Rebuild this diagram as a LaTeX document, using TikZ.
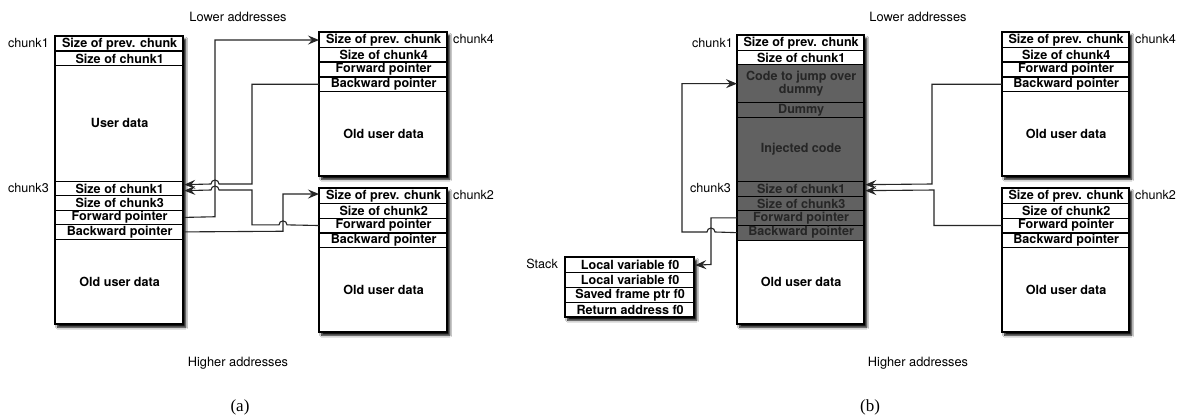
\documentclass[tikz,border=0pt]{standalone}
\usepackage{fontspec}
\setmainfont{TeX Gyre Heros}
\newfontfamily\capfont{Liberation Serif}
\usetikzlibrary{arrows.meta,shadows.blur}

\tikzset{
  conn/.style={draw=black!85, line width=1.1pt},
  arrowtip/.style={-{Stealth[length=11pt,width=9pt,inset=4pt]}},
  memrow/.style={draw=black, line width=1.3pt, inner sep=0pt, anchor=north west,
    align=center, font=\fontsize{12.6}{13.5}\selectfont\bfseries, text=black},
  darkrow/.style={memrow, fill=black!62, text=black!85},
  chunkframe/.style={fill=white, inner sep=0pt, anchor=north west,
    blur shadow={shadow xshift=2.5pt, shadow yshift=-3pt, shadow blur radius=2pt, shadow blur steps=6, shadow opacity=100}},
  chunkoutline/.style={draw=black, line width=2pt},
  lbl/.style={font=\fontsize{12.6}{14}\selectfont, inner sep=0pt},
  addr/.style={font=\fontsize{12.8}{14}\selectfont, inner sep=0pt},
  captext/.style={font=\capfont\fontsize{17}{18}\selectfont, inner sep=0pt},
}

\begin{document}
\begin{tikzpicture}[x=1pt,y=-1pt]
\useasboundingbox[fill=white] (0,0) rectangle (1186,417);

% ================= (a) =================
\node[addr] (aLow) at (238,17) {Lower addresses};
\node[addr] (aHigh) at (238,363) {Higher addresses};
\node[captext] (aCap) at (240,407) {(a)};

% chunk1 / chunk3 column
\node[chunkframe, minimum width=128pt, minimum height=288pt] (aL) at (55,36) {};
\begin{scope}[every node/.style={minimum width=128pt}]
\node[memrow, minimum height=14.5pt] (a1prev) at (55,36) {Size of prev. chunk};
\node[memrow, minimum height=14.5pt] (a1size) at (55,50.5) {Size of chunk1};
\node[memrow, minimum height=115.5pt] (a1user) at (55,65) {User data};
\node[memrow, minimum height=14.5pt] (a3s1) at (55,180.5) {Size of chunk1};
\node[memrow, minimum height=14.5pt] (a3s3) at (55,195) {Size of chunk3};
\node[memrow, minimum height=14.5pt] (a3fwd) at (55,209.5) {Forward pointer};
\node[memrow, minimum height=14.5pt] (a3bwd) at (55,224) {Backward pointer};
\node[memrow, minimum height=85.5pt] (a3old) at (55,238.5) {Old user data};
\end{scope}
\draw[chunkoutline] (aL.north west) rectangle (aL.south east);
\node[lbl, anchor=east] (aC1) at (49,43) {chunk1};
\node[lbl, anchor=east] (aC3) at (49,188) {chunk3};

% chunk4
\node[chunkframe, minimum width=128pt, minimum height=144pt] (aR4) at (319,32) {};
\begin{scope}[every node/.style={minimum width=128pt}]
\node[memrow, minimum height=14.75pt] (a4prev) at (319,32) {Size of prev. chunk};
\node[memrow, minimum height=14.75pt] (a4size) at (319,46.75) {Size of chunk4};
\node[memrow, minimum height=14.75pt] (a4fwd) at (319,61.5) {Forward pointer};
\node[memrow, minimum height=14.75pt] (a4bwd) at (319,76.25) {Backward pointer};
\node[memrow, minimum height=85pt] (a4old) at (319,91) {Old user data};
\end{scope}
\draw[chunkoutline] (aR4.north west) rectangle (aR4.south east);
\node[lbl, anchor=west] (aC4) at (453,39) {chunk4};

% chunk2
\node[chunkframe, minimum width=128pt, minimum height=144pt] (aR2) at (319,188) {};
\begin{scope}[every node/.style={minimum width=128pt}]
\node[memrow, minimum height=14.75pt] (a2prev) at (319,188) {Size of prev. chunk};
\node[memrow, minimum height=14.75pt] (a2size) at (319,202.75) {Size of chunk2};
\node[memrow, minimum height=14.75pt] (a2fwd) at (319,217.5) {Forward pointer};
\node[memrow, minimum height=14.75pt] (a2bwd) at (319,232.25) {Backward pointer};
\node[memrow, minimum height=85pt] (a2old) at (319,247) {Old user data};
\end{scope}
\draw[chunkoutline] (aR2.north west) rectangle (aR2.south east);
\node[lbl, anchor=west] (aC2) at (453,195) {chunk2};

% connectors (a)
\draw[conn,arrowtip] (a3fwd.east) -- (215,216.75) |- (a4prev.west);
\draw[conn,arrowtip] (a4bwd.west) -| (252,184) -- (219,184)
   arc[start angle=0,end angle=180,radius=4pt] -- ([yshift=3.75pt]a3s1.east);
\draw[conn,arrowtip] (a2fwd.west) -- (287,224.875)
   arc[start angle=0,end angle=180,radius=4pt] -- (252,224.875) -- (252,190) -- (219,190)
   arc[start angle=0,end angle=180,radius=4pt] -- ([yshift=-2.25pt]a3s1.east);
\draw[conn,arrowtip] (a3bwd.east) -- (283,231.25) |- ([yshift=2pt]a2prev.west);

% ================= (b) =================
\node[addr] (bLow) at (918,17) {Lower addresses};
\node[addr] (bHigh) at (918,363) {Higher addresses};
\node[captext] (bCap) at (870,407) {(b)};

% chunk1 / chunk3 column with injected code
\node[chunkframe, minimum width=127pt, minimum height=289pt] (bL) at (737,35) {};
\begin{scope}[every node/.style={minimum width=127pt}]
\node[memrow, minimum height=15pt] (b1prev) at (737,35) {Size of prev. chunk};
\node[memrow, minimum height=14pt] (b1size) at (737,50) {Size of chunk1};
\node[darkrow, minimum height=38pt] (b1code) at (737,64) {Code to jump over\\dummy};
\node[darkrow, minimum height=15pt] (b1dummy) at (737,102) {Dummy};
\node[darkrow, minimum height=64pt] (b1inj) at (737,117) {Injected code};
\node[darkrow, minimum height=14.5pt] (b1s1) at (737,181) {Size of chunk1};
\node[darkrow, minimum height=14.5pt] (b1s3) at (737,195.5) {Size of chunk3};
\node[darkrow, minimum height=14.5pt] (b1fwd) at (737,210) {Forward pointer};
\node[darkrow, minimum height=15pt] (b1bwd) at (737,224.5) {Backward pointer};
\node[memrow, minimum height=84.5pt] (b1old) at (737,239.5) {Old user data};
\end{scope}
\draw[chunkoutline] (bL.north west) rectangle (bL.south east);
\node[lbl, anchor=east] (bC1) at (733,43) {chunk1};
\node[lbl, anchor=east] (bC3) at (731,188) {chunk3};

% stack
\node[chunkframe, minimum width=129pt, minimum height=60pt] (bS) at (565,257) {};
\begin{scope}[every node/.style={minimum width=129pt}]
\node[memrow, minimum height=15pt] (bst1) at (565,257) {Local variable f0};
\node[memrow, minimum height=15pt] (bst2) at (565,272) {Local variable f0};
\node[memrow, minimum height=15pt] (bst3) at (565,287) {Saved frame ptr f0};
\node[memrow, minimum height=15pt] (bst4) at (565,302) {Return address f0};
\end{scope}
\draw[chunkoutline] (bS.north west) rectangle (bS.south east);
\node[lbl, anchor=east] (bStack) at (558,264) {Stack};

% chunk4
\node[chunkframe, minimum width=127pt, minimum height=144pt] (bR4) at (1002,32) {};
\begin{scope}[every node/.style={minimum width=127pt}]
\node[memrow, minimum height=14.75pt] (b4prev) at (1002,32) {Size of prev. chunk};
\node[memrow, minimum height=14.75pt] (b4size) at (1002,46.75) {Size of chunk4};
\node[memrow, minimum height=14.75pt] (b4fwd) at (1002,61.5) {Forward pointer};
\node[memrow, minimum height=14.75pt] (b4bwd) at (1002,76.25) {Backward pointer};
\node[memrow, minimum height=85pt] (b4old) at (1002,91) {Old user data};
\end{scope}
\draw[chunkoutline] (bR4.north west) rectangle (bR4.south east);
\node[lbl, anchor=west] (bC4) at (1135,39) {chunk4};

% chunk2
\node[chunkframe, minimum width=127pt, minimum height=144pt] (bR2) at (1002,188) {};
\begin{scope}[every node/.style={minimum width=127pt}]
\node[memrow, minimum height=14.75pt] (b2prev) at (1002,188) {Size of prev. chunk};
\node[memrow, minimum height=14.75pt] (b2size) at (1002,202.75) {Size of chunk2};
\node[memrow, minimum height=14.75pt] (b2fwd) at (1002,217.5) {Forward pointer};
\node[memrow, minimum height=14.75pt] (b2bwd) at (1002,232.25) {Backward pointer};
\node[memrow, minimum height=85pt] (b2old) at (1002,247) {Old user data};
\end{scope}
\draw[chunkoutline] (bR2.north west) rectangle (bR2.south east);
\node[lbl, anchor=west] (bC2) at (1135,195) {chunk2};

% connectors (b)
\draw[conn,arrowtip] (b4bwd.west) -| (932,184) -- ([yshift=4.25pt]b1s1.east);
\draw[conn,arrowtip] (b2fwd.west) -| (934,190) -- ([yshift=-1.75pt]b1s1.east);
\draw[conn,arrowtip] (b1fwd.west) -| (711,264.5) -- (bst1.east);
\draw[conn,arrowtip] (b1bwd.west) -- (715,232)
   arc[start angle=0,end angle=180,radius=4pt] -- (682,232) |- (b1code.west);
\end{tikzpicture}
\end{document}
